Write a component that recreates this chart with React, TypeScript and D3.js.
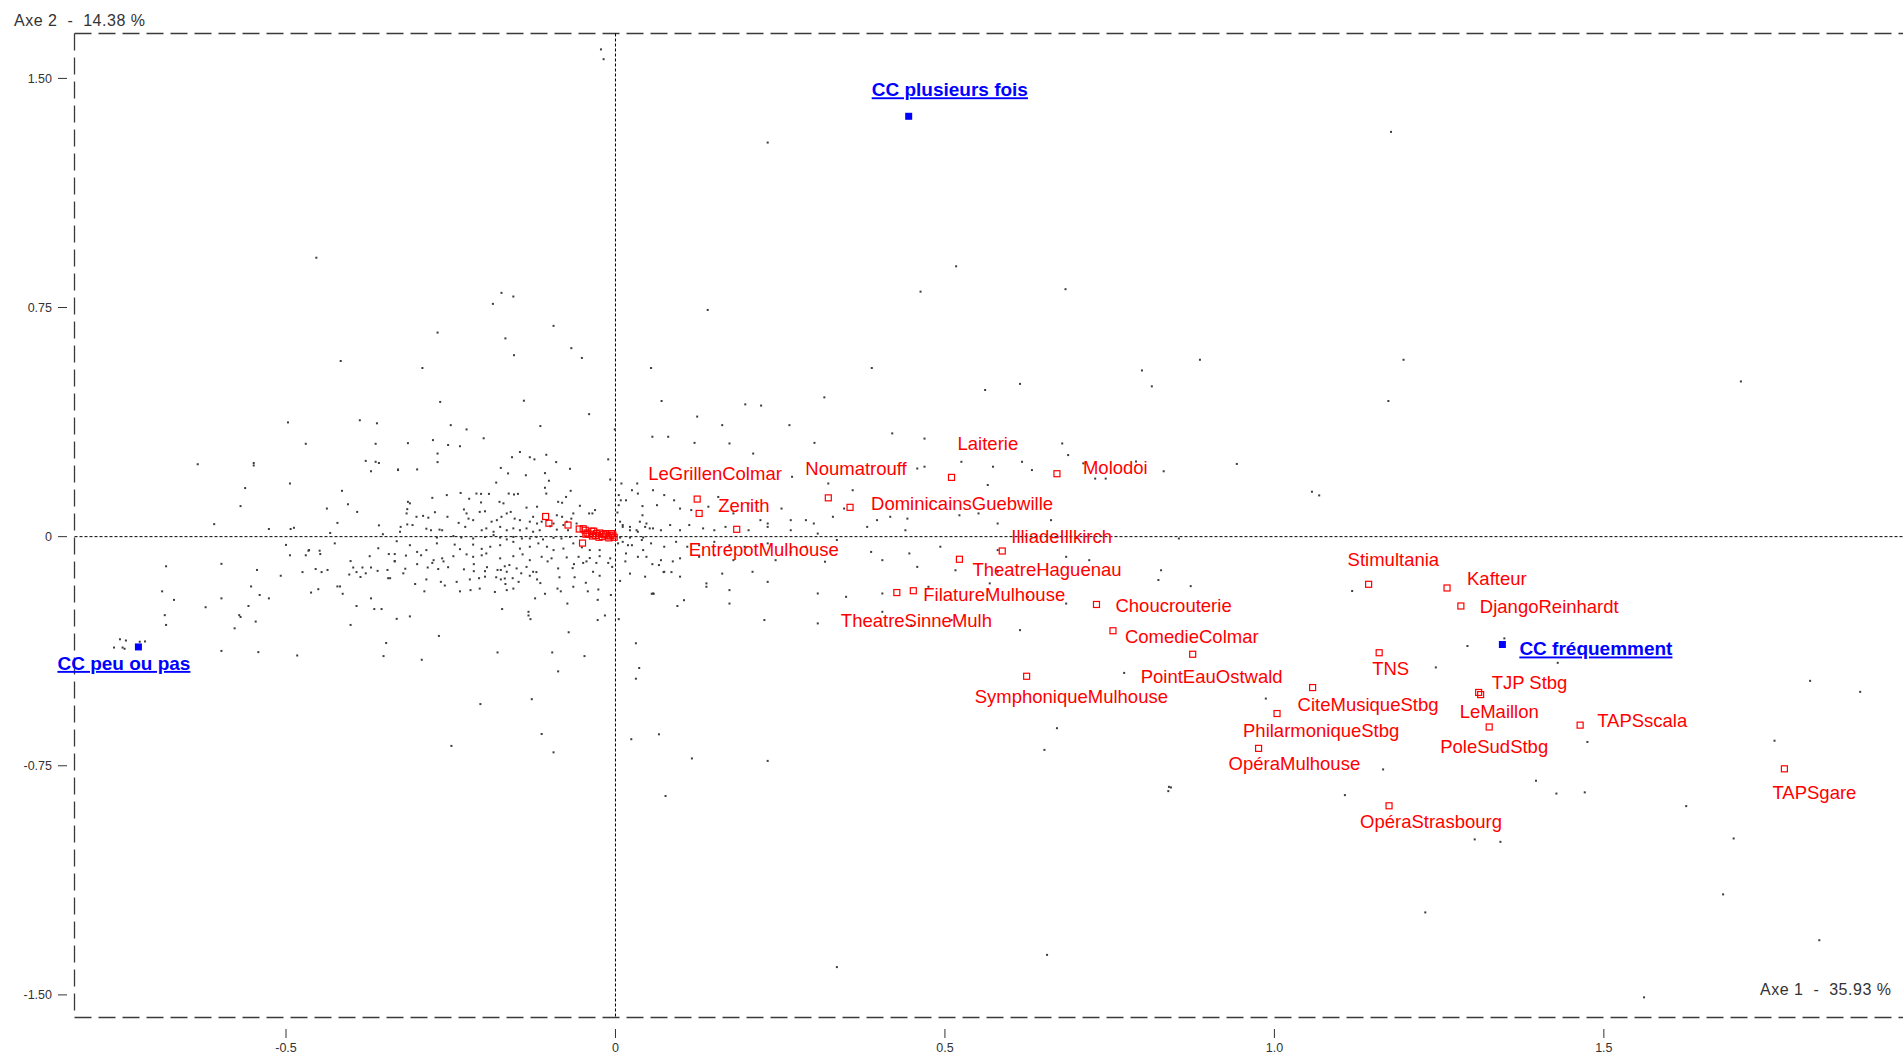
import React from 'react';
import * as d3 from 'd3';

const WIDTH = 1903;
const HEIGHT = 1055;
const FONT = "'Liberation Sans', Arial, sans-serif";

// axis titles and ticks
const axisXTitle = 'Axe 1  -  35.93 %';
const axisYTitle = 'Axe 2  -  14.38 %';
const xTickValues = [-0.5, 0, 0.5, 1.0, 1.5];
const xTickLabels = ['-0.5', '0', '0.5', '1.0', '1.5'];
const yTickValues = [1.5, 0.75, 0, -0.75, -1.5];
const yTickLabels = ['1.50', '0.75', '0', '-0.75', '-1.50'];

// supplementary categories (blue)
const ccNames = ['CC plusieurs fois', 'CC peu ou pas', 'CC fréquemment'];
const ccX = [0.445, -0.724, 1.346];
const ccY = [1.376, -0.361, -0.353];

// venues (red)
const venueNames = [
  'LeGrillenColmar', 'Zenith', 'EntrepotMulhouse', 'Noumatrouff', 'DominicainsGuebwille',
  'Laiterie', 'Molodoi', 'IlliadeIllkirch', 'TheatreHaguenau', 'FilatureMulhouse',
  'TheatreSinneMulh', 'Choucrouterie', 'ComedieColmar', 'PointEauOstwald', 'SymphoniqueMulhouse',
  'CiteMusiqueStbg', 'PhilarmoniqueStbg', 'OpéraMulhouse', 'OpéraStrasbourg', 'TNS',
  'Stimultania', 'Kafteur', 'DjangoReinhardt', 'TJP Stbg', 'LeMaillon',
  'PoleSudStbg', 'TAPSscala', 'TAPSgare',
];
const venueX = [
  0.124, 0.127, 0.184, 0.323, 0.356, 0.510, 0.670, 0.587, 0.522, 0.452,
  0.427, 0.730, 0.755, 0.876, 0.624, 1.058, 1.004, 0.976, 1.174, 1.159,
  1.143, 1.262, 1.283, 1.310, 1.313, 1.326, 1.464, 1.774,
];
const venueY = [
  0.123, 0.076, 0.024, 0.127, 0.096, 0.194, 0.206, -0.047, -0.074, -0.177,
  -0.183, -0.222, -0.308, -0.385, -0.457, -0.494, -0.579, -0.693, -0.881, -0.380,
  -0.156, -0.168, -0.227, -0.510, -0.517, -0.623, -0.617, -0.760,
];

// "no" modalities packed near the origin (labels hidden by overlap)
const nearOriginX = [-0.106, -0.101, -0.072, -0.055, -0.050, -0.049, -0.046, -0.043, -0.036, -0.033, -0.029, -0.024, -0.018, -0.013, -0.008, -0.004, -0.040, -0.030, -0.020, -0.015, -0.010, -0.025, -0.035, -0.045, -0.006, -0.002];
const nearOriginY = [0.066, 0.044, 0.038, 0.025, -0.021, 0.026, 0.021, 0.012, 0.018, 0.018, 0.010, 0.012, 0.008, 0.005, 0.002, 0.005, 0.008, 0.004, 0.000, 0.010, -0.004, -0.002, 0.002, 0.008, 0.010, -0.002];

// individuals
const dotsWest = [
  [-0.497, 0.374], [-0.388, 0.381], [-0.362, 0.371], [-0.470, 0.304], [-0.364, 0.304], [-0.634, 0.237], [-0.549, 0.241], [-0.549, 0.233],
  [-0.379, 0.248], [-0.364, 0.245], [-0.359, 0.241], [-0.371, 0.214], [-0.330, 0.218], [-0.562, 0.159], [-0.494, 0.174], [-0.415, 0.150],
  [-0.569, 0.100], [-0.406, 0.106], [-0.438, 0.092], [-0.609, 0.041], [-0.422, 0.045], [-0.526, 0.025], [-0.493, 0.025], [-0.488, 0.029],
  [-0.359, 0.037], [-0.433, 0.012], [-0.353, 0.008], [-0.500, -0.027], [-0.426, -0.022], [-0.332, -0.015], [-0.494, -0.061], [-0.466, -0.046],
  [-0.449, -0.046], [-0.360, -0.038], [-0.344, -0.057], [-0.335, -0.057], [-0.682, -0.097], [-0.598, -0.089], [-0.544, -0.109], [-0.402, -0.080],
  [-0.398, -0.101], [-0.384, -0.101], [-0.371, -0.101], [-0.335, -0.080], [-0.508, -0.128], [-0.475, -0.116], [-0.446, -0.116], [-0.437, -0.109],
  [-0.404, -0.124], [-0.393, -0.116], [-0.387, -0.132], [-0.379, -0.120], [-0.361, -0.112], [-0.346, -0.109], [-0.345, -0.136], [-0.553, -0.163],
  [-0.422, -0.163], [-0.418, -0.163], [-0.451, -0.172], [-0.462, -0.183], [-0.414, -0.187], [-0.540, -0.191], [-0.670, -0.207], [-0.598, -0.202],
  [-0.526, -0.202], [-0.371, -0.202], [-0.622, -0.231], [-0.557, -0.227], [-0.393, -0.227], [-0.366, -0.237], [-0.355, -0.237], [-0.684, -0.257],
  [-0.571, -0.257], [-0.569, -0.263], [-0.682, -0.289], [-0.578, -0.300], [-0.402, -0.289], [-0.332, -0.269], [-0.348, -0.348], [-0.598, -0.374],
  [-0.542, -0.378], [-0.352, -0.391], [-0.752, -0.336], [-0.743, -0.340], [-0.761, -0.363], [-0.748, -0.363], [-0.745, -0.367], [-0.722, -0.344],
  [-0.714, -0.343], [-0.688, -0.179], [-0.546, -0.278], [-0.483, -0.389],
];

const dotsNorth = [
  [-0.270, 0.668], [-0.167, 0.649], [-0.067, 0.617], [-0.051, 0.585], [-0.154, 0.594], [-0.266, 0.441], [-0.139, 0.445], [-0.040, 0.401],
  [-0.250, 0.365], [-0.226, 0.351], [-0.114, 0.362], [-0.200, 0.322], [-0.315, 0.306], [-0.277, 0.316], [-0.254, 0.300], [-0.236, 0.296],
  [-0.270, 0.272], [-0.270, 0.244], [-0.157, 0.260], [-0.145, 0.277], [-0.130, 0.260], [-0.123, 0.253], [-0.105, 0.268], [-0.090, 0.244],
  [-0.011, 0.253], [-0.001, 0.351], [-0.174, 0.225], [-0.069, 0.222], [-0.330, 0.220], [-0.301, 0.220],
  [-0.022, 1.595], [-0.018, 1.563], [0.231, 1.290], [1.177, 1.325], [-0.454, 0.913], [-0.173, 0.798], [-0.155, 0.786], [-0.186, 0.762],
  [-0.417, 0.575], [-0.293, 0.552], [-0.094, 0.690], [0.140, 0.742], [0.463, 0.802], [0.517, 0.885], [0.683, 0.810], [0.799, 0.544],
  [0.814, 0.492], [0.887, 0.579], [1.196, 0.579], [1.708, 0.508], [1.173, 0.444], [1.057, 0.147], [1.068, 0.135], [0.943, 0.238],
  [0.790, 0.246], [0.744, 0.190], [0.832, 0.214], [0.389, 0.552], [0.561, 0.480], [0.614, 0.500], [0.317, 0.456], [0.264, 0.365],
  [0.124, 0.393], [0.054, 0.552], [0.070, 0.444], [0.162, 0.365], [0.197, 0.433], [0.221, 0.429],
];

const dotsSouth = [
  [-0.335, -0.081], [-0.301, -0.090], [-0.278, -0.086], [-0.261, -0.081], [-0.254, -0.100], [-0.215, -0.090], [-0.195, -0.100], [-0.168, -0.097],
  [-0.161, -0.093], [-0.103, -0.081], [-0.063, -0.090], [-0.065, -0.103], [-0.049, -0.086], [-0.044, -0.081], [-0.029, -0.086], [-0.011, -0.086],
  [0.015, -0.081], [0.056, -0.090], [0.066, -0.093], [0.087, -0.081], [-0.319, -0.105], [-0.322, -0.120], [-0.342, -0.136], [-0.265, -0.148],
  [-0.259, -0.160], [-0.304, -0.155], [-0.290, -0.179], [-0.236, -0.179], [-0.221, -0.140], [-0.207, -0.136], [-0.215, -0.113], [-0.198, -0.113],
  [-0.179, -0.109], [-0.174, -0.109], [-0.181, -0.133], [-0.174, -0.140], [-0.167, -0.155], [-0.156, -0.136], [-0.143, -0.120], [-0.130, -0.128],
  [-0.120, -0.116], [-0.119, -0.140], [-0.114, -0.152], [-0.085, -0.133], [-0.062, -0.133], [-0.024, -0.128], [-0.107, -0.187], [-0.083, -0.179],
  [-0.042, -0.179], [-0.007, -0.191], [0.007, -0.145], [0.055, -0.187], [0.058, -0.187], [0.073, -0.116], [0.085, -0.116], [0.094, -0.227],
  [-0.122, -0.202], [-0.073, -0.219], [-0.027, -0.207], [-0.172, -0.237], [-0.132, -0.246], [-0.132, -0.258], [-0.129, -0.270], [-0.312, -0.261],
  [-0.016, -0.258], [-0.027, -0.273], [0.005, -0.270], [-0.071, -0.313], [-0.268, -0.325], [0.031, -0.349], [-0.294, -0.403], [-0.179, -0.379],
  [-0.096, -0.379], [-0.047, -0.391], [-0.087, -0.441], [0.036, -0.430], [0.031, -0.465], [-0.205, -0.548], [-0.127, -0.532], [-0.112, -0.646],
  [-0.249, -0.685], [-0.094, -0.706], [0.024, -0.663], [0.066, -0.647], [0.231, -0.734], [0.076, -0.849], [0.116, -0.726], [0.651, -0.698],
  [0.670, -0.627], [0.843, -0.821], [0.839, -0.833], [0.336, -1.409], [0.655, -1.369],
];

const dotsCore = [
  [-0.163, 0.207], [-0.136, 0.201], [-0.107, 0.208], [-0.101, 0.183], [-0.181, 0.177], [-0.107, 0.160], [-0.105, 0.141], [-0.068, 0.150],
  [-0.315, 0.114], [-0.312, 0.109], [-0.316, 0.090], [-0.278, 0.127], [-0.256, 0.136], [-0.235, 0.143], [-0.222, 0.124], [-0.211, 0.141],
  [-0.204, 0.140], [-0.204, 0.112], [-0.192, 0.140], [-0.176, 0.114], [-0.170, 0.109], [-0.162, 0.141], [-0.154, 0.138], [-0.148, 0.140],
  [-0.135, 0.095], [-0.119, 0.098], [-0.087, 0.114], [-0.081, 0.111], [-0.075, 0.130], [-0.064, 0.076], [-0.054, 0.101], [-0.040, 0.076],
  [-0.035, 0.076], [-0.031, 0.087], [-0.008, 0.187], [0.005, 0.136], [0.008, 0.119], [0.005, 0.103], [0.003, 0.079], [0.033, 0.174],
  [0.041, 0.100], [0.041, 0.070],
  [-0.392, 0.081], [-0.317, 0.076], [-0.302, 0.065], [-0.292, 0.068], [-0.284, 0.062], [-0.274, 0.080], [-0.255, 0.065], [-0.230, 0.089],
  [-0.226, 0.076], [-0.223, 0.059], [-0.216, 0.054], [-0.206, 0.081], [-0.198, 0.083], [-0.188, 0.049], [-0.180, 0.054], [-0.173, 0.065],
  [-0.165, 0.076], [-0.159, 0.081], [-0.153, 0.059], [-0.145, 0.054], [-0.130, 0.049], [-0.125, 0.065], [-0.119, 0.043], [-0.112, 0.049],
  [-0.104, 0.054], [-0.094, 0.043], [-0.089, 0.070], [-0.081, 0.065], [-0.074, 0.049], [-0.067, 0.059], [-0.059, 0.043],
  [-0.326, 0.032], [-0.316, 0.040], [-0.308, 0.038], [-0.287, 0.026], [-0.280, 0.021], [-0.267, 0.023], [-0.263, 0.021], [-0.238, 0.045],
  [-0.228, 0.032], [-0.203, 0.021], [-0.196, 0.027], [-0.185, 0.016], [-0.175, 0.032], [-0.165, 0.021], [-0.155, 0.027], [-0.145, 0.021],
  [-0.135, 0.027], [-0.125, 0.016], [-0.115, 0.021], [-0.099, 0.034], [-0.089, 0.023], [-0.079, 0.038], [-0.072, 0.021], [0.007, 0.049],
  [0.011, 0.038], [0.022, 0.032], [0.032, 0.021], [0.037, 0.049], [0.047, 0.043], [0.052, 0.027],
  [-0.327, 0.016], [-0.271, -0.003], [-0.246, 0.002], [-0.234, -0.003], [-0.216, -0.006], [-0.198, -0.001], [-0.185, 0.005], [-0.175, -0.003],
  [-0.165, -0.009], [-0.155, -0.001], [-0.142, -0.006], [-0.130, -0.006], [-0.120, -0.001], [-0.110, -0.009], [-0.094, -0.004], [-0.082, -0.006],
  [-0.069, -0.001], [0.007, -0.003], [0.022, -0.003], [0.042, -0.003],
  [-0.465, -0.044], [-0.312, -0.028], [-0.287, -0.044], [-0.271, -0.022], [-0.244, -0.026], [-0.236, -0.041], [-0.216, -0.026], [-0.203, -0.040],
  [-0.190, -0.033], [-0.175, -0.028], [-0.155, -0.017], [-0.145, -0.039], [-0.130, -0.033], [-0.117, -0.022], [-0.104, -0.033], [-0.094, -0.044],
  [-0.079, -0.039], [-0.064, -0.022], [-0.051, -0.035], [-0.039, -0.044], [-0.024, -0.044], [0.004, -0.022], [0.019, -0.028], [0.042, -0.044],
  [-0.470, -0.061], [-0.448, -0.057], [-0.373, -0.064], [-0.318, -0.062], [-0.301, -0.050], [-0.295, -0.061], [-0.276, -0.077], [-0.263, -0.071],
  [-0.246, -0.064], [-0.226, -0.058], [-0.216, -0.066], [-0.203, -0.061], [-0.196, -0.055], [-0.175, -0.071], [-0.155, -0.064], [-0.141, -0.058],
  [-0.130, -0.077], [-0.112, -0.066], [-0.097, -0.071], [-0.074, -0.068], [-0.056, -0.066], [-0.039, -0.070], [-0.024, -0.064], [-0.008, -0.071],
  [0.047, -0.066],
  [-0.455, -0.106], [-0.285, -0.101], [-0.269, -0.106], [-0.230, -0.107], [-0.165, -0.115], [-0.150, -0.104], [-0.135, -0.099], [-0.125, -0.115],
  [-0.087, -0.104], [-0.034, -0.115], [-0.005, -0.099],
  [-0.287, -0.140], [-0.241, -0.148], [-0.198, -0.131], [-0.168, -0.137], [-0.147, -0.148], [-0.045, -0.151],
  [-0.220, -0.175], [-0.206, -0.170], [-0.183, -0.181], [-0.165, -0.175], [-0.155, -0.170], [-0.088, -0.170], [-0.064, -0.164], [-0.026, -0.173],
];

const dotsEast = [
  [0.080, 0.327], [0.056, 0.327], [0.120, 0.307], [0.173, 0.305], [0.209, 0.272], [0.302, 0.307], [0.420, 0.338], [0.469, 0.321],
  [0.678, 0.305], [0.687, 0.267], [0.458, 0.223], [0.469, 0.229], [0.525, 0.245], [0.268, 0.196], [0.323, 0.174], [0.360, 0.152],
  [0.573, 0.229], [0.617, 0.245], [0.632, 0.218], [0.710, 0.240], [0.728, 0.190], [0.565, 0.169], [0.009, 0.174], [0.025, 0.152],
  [0.034, 0.141], [0.016, 0.119], [0.057, 0.152], [0.074, 0.136], [0.063, 0.103], [0.089, 0.119], [0.098, 0.092], [0.115, 0.087],
  [0.141, 0.098], [0.156, 0.130], [0.179, 0.076], [0.202, 0.109], [0.220, 0.054], [0.231, 0.043], [0.252, 0.092], [0.266, 0.054],
  [0.289, 0.054], [0.301, 0.043], [0.330, 0.065], [0.347, 0.092], [0.397, 0.054], [0.417, 0.065], [0.443, 0.059], [0.522, 0.070],
  [0.551, 0.076], [0.580, 0.043], [0.661, 0.054],
  [0.011, 0.032], [0.022, 0.021], [0.034, 0.016], [0.045, 0.032], [0.057, 0.027], [0.069, 0.021], [0.083, 0.038], [0.098, 0.021],
  [0.112, 0.038], [0.133, 0.027], [0.150, 0.021], [0.167, 0.032], [0.202, 0.021], [0.231, 0.032], [0.266, 0.021], [0.307, 0.010],
  [0.382, 0.032], [0.440, 0.021],
  [0.011, -0.017], [0.025, -0.028], [0.040, -0.011], [0.054, -0.022], [0.074, -0.033], [0.092, -0.017], [0.109, -0.033], [0.127, -0.028],
  [0.150, -0.017], [0.173, -0.028], [0.196, -0.033], [0.231, -0.022], [0.266, -0.050], [0.289, -0.033], [0.336, -0.011], [0.388, -0.050],
  [0.446, -0.055], [0.493, -0.033], [0.580, -0.044], [0.684, -0.066], [0.719, -0.077],
  [0.016, -0.055], [0.034, -0.066], [0.069, -0.077], [0.098, -0.071], [0.127, -0.066], [0.150, -0.061], [0.179, -0.077], [0.243, -0.077],
  [0.318, -0.082], [0.405, -0.077], [0.458, -0.099], [0.516, -0.110], [0.580, -0.115],
  [0.022, -0.121], [0.045, -0.131], [0.074, -0.115], [0.098, -0.131], [0.138, -0.153], [0.162, -0.121], [0.173, -0.175], [0.208, -0.115],
  [0.231, -0.148], [0.307, -0.186], [0.350, -0.197], [0.405, -0.186], [0.475, -0.164], [0.568, -0.153], [0.626, -0.197],
  [0.057, -0.186], [0.104, -0.208], [0.138, -0.164], [0.173, -0.219], [0.226, -0.273], [0.307, -0.284], [0.405, -0.246], [0.449, -0.290],
  [0.510, -0.273], [0.614, -0.306], [0.684, -0.219],
];

const dotsFar = [
  [0.828, -0.110], [0.824, -0.142], [0.873, -0.162], [1.118, -0.178], [1.293, -0.358], [1.349, -0.333], [1.430, -0.413], [1.245, -0.428],
  [0.987, -0.530], [1.165, -0.762], [1.107, -0.846], [0.840, -0.819], [1.397, -0.799], [1.428, -0.841], [1.471, -0.837], [1.625, -0.882],
  [1.697, -0.988], [1.759, -0.668], [1.813, -0.472], [1.889, -0.508], [1.475, -0.672], [1.343, -0.999], [1.304, -0.991], [0.772, -0.446],
  [0.855, -0.006], [1.827, -1.321], [1.681, -1.171], [1.561, -1.508], [1.229, -1.230],
];

// label placement (pixels from the marker) — layout only
const venueLabelOffset: Record<string, [number, number]> = {
  LeGrillenColmar: [-49, -19], Zenith: [19, -1], EntrepotMulhouse: [-48, 27], Noumatrouff: [-23, -23],
  DominicainsGuebwille: [21, 3], Laiterie: [6, -27], Molodoi: [26, 0], IlliadeIllkirch: [9, -8],
  TheatreHaguenau: [13, 17], FilatureMulhouse: [10, 10], TheatreSinneMulh: [-56, 34], Choucrouterie: [19, 8],
  ComedieColmar: [12, 12], PointEauOstwald: [-52, 29], SymphoniqueMulhouse: [-52, 27], CiteMusiqueStbg: [-15, 23],
  PhilarmoniqueStbg: [-34, 23], 'OpéraMulhouse': [-30, 22], 'OpéraStrasbourg': [-29, 22], TNS: [-7, 22],
  Stimultania: [-21, -18], Kafteur: [20, -3], DjangoReinhardt: [19, 7], 'TJP Stbg': [13, -3],
  LeMaillon: [-21, 23], PoleSudStbg: [-49, 26], TAPSscala: [17, 2], TAPSgare: [-12, 30],
};
const ccLabelOffset: [number, number][] = [[-37, -20], [-81, 23], [17, 11]];

const x = d3.scaleLinear().domain([-0.821, 1.954]).range([74.5, 1903]);
const y = d3.scaleLinear().domain([-1.574, 1.647]).range([1017.5, 33.5]);

const allDots = [...dotsWest, ...dotsNorth, ...dotsSouth, ...dotsCore, ...dotsEast, ...dotsFar];

export default function App() {
  const left = x.range()[0];
  const right = x.range()[1];
  const top = y.range()[1];
  const bottom = y.range()[0];
  const frameStyle = { stroke: '#3a3a3a', strokeWidth: 1.3, strokeDasharray: '17,7', fill: 'none' };

  return (
    <svg
      xmlns="http://www.w3.org/2000/svg"
      width={WIDTH}
      height={HEIGHT}
      style={{ position: 'absolute', left: 0, top: 0, background: '#fff' }}
      fontFamily={FONT}
    >
      <rect width={WIDTH} height={HEIGHT} fill="#fff" />

      {/* frame */}
      <line x1={left} y1={top} x2={right} y2={top} {...frameStyle} />
      <line x1={left} y1={top} x2={left} y2={bottom} {...frameStyle} />
      <line x1={left} y1={bottom} x2={right} y2={bottom} {...frameStyle} />

      {/* origin axes */}
      <line x1={x(0)} y1={top} x2={x(0)} y2={bottom} stroke="#000" strokeDasharray="3,2" />
      <line x1={left} y1={y(0)} x2={right} y2={y(0)} stroke="#000" strokeDasharray="3,2" />

      {/* y ticks */}
      {yTickValues.map((v, i) => (
        <g key={'yt' + i} transform={`translate(0,${y(v)})`}>
          <line x1={58} x2={67} stroke="#333" />
          <text x={52} dy="0.35em" textAnchor="end" fontSize={12.5} fill="#333">{yTickLabels[i]}</text>
        </g>
      ))}

      {/* x ticks */}
      {xTickValues.map((v, i) => (
        <g key={'xt' + i} transform={`translate(${x(v)},0)`}>
          <line y1={1029} y2={1038} stroke="#333" />
          <text y={1052} textAnchor="middle" fontSize={12.5} fill="#333">{xTickLabels[i]}</text>
        </g>
      ))}

      {/* axis titles */}
      <text x={14} y={26} fontSize={16} fill="#333" textLength={131} lengthAdjust="spacing" style={{ whiteSpace: 'pre' }}>{axisYTitle}</text>
      <text x={1760} y={995} fontSize={16} fill="#333" textLength={131} lengthAdjust="spacing" style={{ whiteSpace: 'pre' }}>{axisXTitle}</text>

      {/* individuals */}
      <g fill="#3c3c3c">
        {allDots.map((d, i) => (
          <rect key={'d' + i} x={x(d[0]) - 1} y={y(d[1]) - 1} width={2} height={2} />
        ))}
      </g>

      {/* near-origin modalities */}
      <g fill="none" stroke="#ff0000" strokeWidth={1.2}>
        {nearOriginX.map((v, i) => (
          <rect key={'n' + i} x={x(v) - 3} y={y(nearOriginY[i]) - 3} width={6} height={6} />
        ))}
      </g>

      {/* venues */}
      {venueNames.map((name, i) => {
        const px = x(venueX[i]);
        const py = y(venueY[i]);
        const [dx, dy] = venueLabelOffset[name];
        return (
          <g key={'v' + i}>
            <rect x={px - 3} y={py - 3} width={6} height={6} fill="none" stroke="#ff0000" strokeWidth={1.2} />
            <text x={px + dx} y={py + dy} fontSize={18.5} fill="#ff0000">{name}</text>
          </g>
        );
      })}

      {/* supplementary categories */}
      {ccNames.map((name, i) => {
        const px = x(ccX[i]);
        const py = y(ccY[i]);
        const [dx, dy] = ccLabelOffset[i];
        return (
          <g key={'c' + i}>
            <rect x={px - 3.5} y={py - 3.5} width={7} height={7} fill="#0000ff" />
            <text x={px + dx} y={py + dy} fontSize={19} fontWeight="bold" fill="#0000ff" textDecoration="underline">{name}</text>
          </g>
        );
      })}
    </svg>
  );
}
